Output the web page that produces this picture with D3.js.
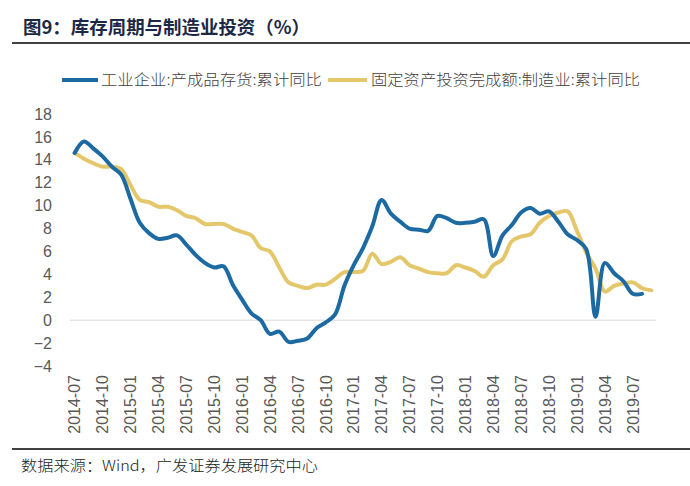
<!DOCTYPE html>
<html>
<head>
<meta charset="utf-8">
<script src="https://cdn.jsdelivr.net/npm/d3@7"></script>
<style>
  body { margin: 0; background: #fff; }
  svg { display: block; }
  .tick text { font-family: "Liberation Sans", Arial, sans-serif; fill: #595959; }
</style>
</head>
<body>
<svg width="690" height="486"></svg>
<script>
// monthly categories 2014-07 .. 2019-09
var months = [];
for (var y = 2014; y <= 2019; y++) {
    for (var m = 1; m <= 12; m++) {
        if ((y === 2014 && m < 7) || (y === 2019 && m > 9)) continue;
        months.push(y + "-" + (m < 10 ? "0" + m : m));
    }
}

var seriesNames = ["工业企业:产成品存货:累计同比", "固定资产投资完成额:制造业:累计同比"];

// 工业企业:产成品存货:累计同比 (ends 2019-08)
var inventory = [
    14.6, 15.6, 15.0, 14.3, 13.4, 12.7, 10.6, 8.5, 7.6, 7.1,
    7.2, 7.4, 6.6, 5.7, 5.0, 4.6, 4.7, 3.1, 1.8, 0.6,
    0.0, -1.2, -1.0, -1.9, -1.8, -1.6, -0.7, -0.2, 0.5, 3.0,
    4.8, 6.3, 8.2, 10.5, 9.3, 8.6, 8.0, 7.9, 7.8, 9.1,
    8.9, 8.5, 8.5, 8.6, 8.8, 5.6, 7.4, 8.3, 9.4, 9.8,
    9.3, 9.5, 8.6, 7.5, 7.0, 6.2, 0.3, 5.0, 4.1, 3.4,
    2.3, 2.3
];

// 固定资产投资完成额:制造业:累计同比 (ends 2019-09)
var fai = [
    14.6, 14.1, 13.7, 13.4, 13.4, 13.2, 11.8, 10.5, 10.3, 9.9,
    9.9, 9.6, 9.1, 8.9, 8.4, 8.4, 8.4, 8.0, 7.7, 7.4,
    6.3, 6.0, 4.6, 3.3, 3.0, 2.8, 3.1, 3.1, 3.6, 4.2,
    4.2, 4.3, 5.8, 4.9, 5.1, 5.5, 4.8, 4.5, 4.2, 4.1,
    4.1, 4.8, 4.6, 4.3, 3.8, 4.8, 5.3, 6.9, 7.3, 7.5,
    8.5, 9.1, 9.4, 9.5, 7.8, 5.9, 4.5, 2.5, 3.0, 3.2,
    3.3, 2.8, 2.6
];

var yTicks = [-4, -2, 0, 2, 4, 6, 8, 10, 12, 14, 16, 18];
var xTickLabels = months.filter(function(d, i) { return i % 3 === 0; });

var colors = ["#1d6aa3", "#e5c76b"];

var svg = d3.select("svg");

var plot = { left: 70, right: 656, top: 114, bottom: 366 };

var x = d3.scaleBand()
    .domain(months)
    .range([plot.left, plot.right]);

var yScale = d3.scaleLinear()
    .domain([-4, 18])
    .range([plot.bottom, plot.top]);

// title
svg.append("text")
    .attr("x", 23)
    .attr("y", 34)
    .attr("font-family", "Noto Sans CJK SC, sans-serif")
    .attr("font-weight", "bold")
    .attr("font-size", 18)
    .attr("fill", "#1c2845")
    .attr("textLength", 287)
    .attr("lengthAdjust", "spacingAndGlyphs")
    .text("图9：库存周期与制造业投资（%）");

svg.append("line")
    .attr("x1", 12).attr("x2", 690)
    .attr("y1", 43).attr("y2", 43)
    .attr("stroke", "#000").attr("stroke-width", 1.5);

// legend
var legendItems = [
    { name: seriesNames[0], color: colors[0], x1: 62, x2: 98, tx: 101, tw: 221 },
    { name: seriesNames[1], color: colors[1], x1: 328, x2: 367, tx: 371, tw: 269 }
];
var legend = svg.append("g").selectAll("g")
    .data(legendItems)
    .enter().append("g");
legend.append("line")
    .attr("x1", function(d) { return d.x1; })
    .attr("x2", function(d) { return d.x2; })
    .attr("y1", 80).attr("y2", 80)
    .attr("stroke", function(d) { return d.color; })
    .attr("stroke-width", 4);
legend.append("text")
    .attr("x", function(d) { return d.tx; })
    .attr("y", 80)
    .attr("dy", "0.36em")
    .attr("font-family", "Noto Sans CJK SC, sans-serif")
    .attr("font-size", 15)
    .attr("font-weight", 300)
    .attr("fill", "#404040")
    .attr("textLength", function(d) { return d.tw; })
    .attr("lengthAdjust", "spacingAndGlyphs")
    .text(function(d) { return d.name; });

// y axis
var yAxis = svg.append("g")
    .attr("transform", "translate(" + (plot.left - 16) + ",0)")
    .call(d3.axisLeft(yScale).tickValues(yTicks).tickSize(0).tickPadding(2));
yAxis.select(".domain").remove();
yAxis.selectAll("text").attr("font-size", 16);

// x axis
var xAxis = svg.append("g")
    .attr("transform", "translate(0," + plot.bottom + ")")
    .call(d3.axisBottom(x).tickValues(xTickLabels).tickSize(0));
xAxis.select(".domain").remove();
xAxis.selectAll("text")
    .attr("font-size", 16)
    .attr("transform", "rotate(-90)")
    .attr("text-anchor", "end")
    .attr("x", -9)
    .attr("y", 0)
    .attr("dy", "0.36em");

// zero line
svg.append("line")
    .attr("x1", plot.left).attr("x2", plot.right)
    .attr("y1", yScale(0)).attr("y2", yScale(0))
    .attr("stroke", "#d9d9d9").attr("stroke-width", 1);

var line = d3.line()
    .x(function(d, i) { return x(months[i]) + x.bandwidth() / 2; })
    .y(function(d) { return yScale(d); })
    .curve(d3.curveCatmullRom.alpha(0.5));

svg.append("g").selectAll("path")
    .data([inventory, fai])
    .enter().append("path")
    .attr("d", line)
    .attr("fill", "none")
    .attr("stroke", function(d, i) { return colors[i]; })
    .attr("stroke-width", 4)
    .attr("stroke-linejoin", "round")
    .attr("stroke-linecap", "round");

// reorder so blue sits on top like the reference
svg.selectAll("path").filter(function(d) { return d === inventory; }).raise();

// footer
svg.append("line")
    .attr("x1", 12).attr("x2", 690)
    .attr("y1", 449).attr("y2", 449)
    .attr("stroke", "#000").attr("stroke-width", 1.5);

svg.append("text")
    .attr("x", 21)
    .attr("y", 466)
    .attr("dy", "0.36em")
    .attr("font-family", "Noto Sans CJK SC, sans-serif")
    .attr("font-size", 15)
    .attr("font-weight", 300)
    .attr("fill", "#222")
    .attr("textLength", 297)
    .attr("lengthAdjust", "spacingAndGlyphs")
    .text("数据来源：Wind，广发证券发展研究中心");
</script>
</body>
</html>
